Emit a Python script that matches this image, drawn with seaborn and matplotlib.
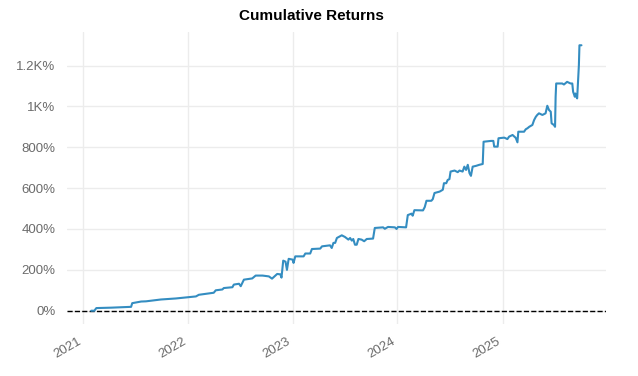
import matplotlib
matplotlib.use("Agg")
import matplotlib.pyplot as plt
import matplotlib.dates as mdates
from matplotlib.ticker import FuncFormatter, MultipleLocator
import seaborn as sns
import pandas as pd

dates = [
    "2021-01-29", "2021-02-09", "2021-02-16", "2021-04-09", "2021-06-10", "2021-06-17",
    "2021-06-21", "2021-07-22", "2021-08-08", "2021-09-29", "2021-11-20", "2021-12-31",
    "2022-01-29", "2022-02-08", "2022-04-01", "2022-04-08", "2022-05-01", "2022-05-06",
    "2022-06-05", "2022-06-10", "2022-06-28", "2022-07-04", "2022-07-15", "2022-08-13",
    "2022-08-25", "2022-09-18", "2022-10-10", "2022-10-21", "2022-11-08", "2022-11-19",
    "2022-11-23", "2022-11-29", "2022-12-07", "2022-12-12", "2022-12-18", "2023-01-01",
    "2023-01-04", "2023-01-10", "2023-02-08", "2023-02-14", "2023-03-03", "2023-03-09",
    "2023-04-07", "2023-04-13", "2023-05-11", "2023-05-17", "2023-05-23", "2023-05-29",
    "2023-06-04", "2023-06-21", "2023-07-02", "2023-07-14", "2023-07-20", "2023-07-26",
    "2023-07-31", "2023-08-06", "2023-08-12", "2023-08-18", "2023-08-29", "2023-09-07",
    "2023-09-16", "2023-10-08", "2023-10-14", "2023-11-12", "2023-11-18", "2023-11-29",
    "2023-12-23", "2023-12-29", "2024-01-03", "2024-01-31", "2024-02-06", "2024-02-19",
    "2024-02-23", "2024-02-29", "2024-03-30", "2024-04-05", "2024-04-11", "2024-04-28",
    "2024-05-03", "2024-05-09", "2024-05-27", "2024-06-07", "2024-06-11", "2024-06-19",
    "2024-06-24", "2024-06-30", "2024-07-04", "2024-07-18", "2024-07-29", "2024-08-04",
    "2024-08-15", "2024-08-21", "2024-08-27", "2024-09-02", "2024-09-08", "2024-09-13",
    "2024-09-19", "2024-10-01", "2024-10-12", "2024-10-24", "2024-10-27", "2024-11-22",
    "2024-11-30", "2024-12-03", "2024-12-15", "2024-12-18", "2025-01-07", "2025-01-18",
    "2025-01-24", "2025-02-05", "2025-02-11", "2025-02-16", "2025-02-22", "2025-02-25",
    "2025-03-17", "2025-03-23", "2025-03-29", "2025-04-04", "2025-04-15", "2025-04-21",
    "2025-04-27", "2025-05-02", "2025-05-08", "2025-05-20", "2025-05-31", "2025-06-06",
    "2025-06-12", "2025-06-18", "2025-06-21", "2025-06-29", "2025-07-03", "2025-07-05",
    "2025-07-07", "2025-07-28", "2025-08-03", "2025-08-14", "2025-08-26", "2025-09-01",
    "2025-09-04", "2025-09-10", "2025-09-12", "2025-09-18", "2025-09-24", "2025-09-26",
    "2025-10-03",
]
cum_returns_pct = [
    0, 0, 13, 15, 19, 19,
    37, 45, 46, 55, 60, 66,
    70, 78, 88, 100, 104, 111,
    115, 128, 132, 120, 152, 158,
    172, 172, 168, 157, 180, 178,
    162, 245, 240, 200, 254, 250,
    234, 266, 266, 280, 280, 302,
    304, 315, 320, 307, 332, 332,
    356, 369, 361, 348, 356, 343,
    351, 323, 323, 351, 348, 340,
    351, 353, 405, 408, 401, 410,
    408, 400, 410, 408, 468, 475,
    465, 492, 491, 507, 538, 538,
    546, 576, 583, 592, 624, 624,
    640, 644, 681, 686, 678, 686,
    681, 705, 689, 714, 673, 660,
    705, 709, 714, 718, 827, 831,
    831, 803, 803, 844, 847, 840,
    852, 860, 852, 846, 824, 876,
    876, 888, 893, 900, 909, 933,
    949, 958, 966, 958, 966, 1003,
    982, 974, 917, 909, 900, 1047,
    1112, 1112, 1107, 1120, 1112, 1112,
    1071, 1047, 1063, 1039, 1201, 1299,
    1299,
]

title = "Cumulative Returns"

df = pd.DataFrame({"date": pd.to_datetime(dates), "ret": cum_returns_pct})

sns.set_style("whitegrid", {"grid.color": "#ececec", "axes.edgecolor": "white"})
plt.rcParams["font.family"] = ["Liberation Sans", "DejaVu Sans"]

fig, ax = plt.subplots(figsize=(6.38, 3.76), dpi=100)
fig.subplots_adjust(left=0.1045, right=0.9498, top=0.9149, bottom=0.1383)

sns.lineplot(data=df, x="date", y="ret", ax=ax, color="#348dc1", linewidth=1.5)
ax.axhline(0, color="black", linestyle="--", linewidth=1, zorder=1)

for s in ax.spines.values():
    s.set_visible(False)

ax.yaxis.set_major_locator(MultipleLocator(200))

def fmt(v, pos):
    if abs(v) >= 1000:
        s = f"{v/1000:.1f}".rstrip("0").rstrip(".")
        return f"{s}K%"
    return f"{v:.0f}%"

ax.yaxis.set_major_formatter(FuncFormatter(fmt))
ax.xaxis.set_major_locator(mdates.YearLocator())
ax.xaxis.set_major_formatter(mdates.DateFormatter("%Y"))
ax.set_xlabel("")
ax.set_ylabel("")
ax.grid(axis="both", color="#ececec", linewidth=1)
ax.tick_params(axis="both", colors="#6b6b6b", labelsize=9.5, length=0, pad=8)
for lbl in ax.get_xticklabels():
    lbl.set_rotation(30)
    lbl.set_ha("right")

fig.text(0.488, 0.957, title, ha="center", va="center", fontsize=11, fontweight="bold", color="black")

fig.savefig("out.png", dpi=100)
